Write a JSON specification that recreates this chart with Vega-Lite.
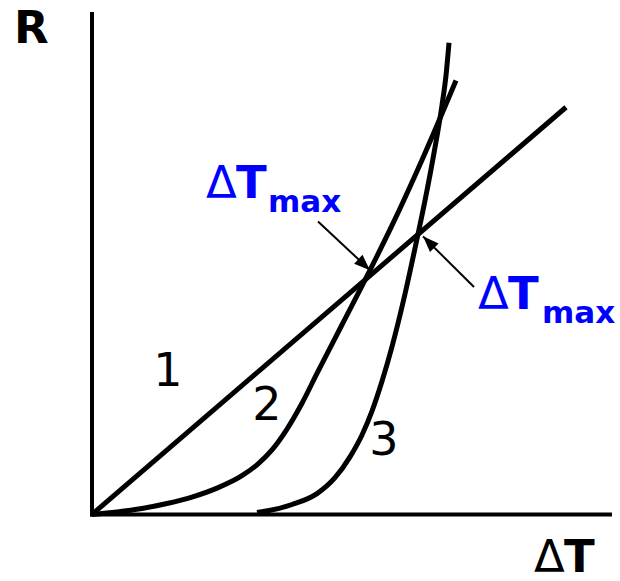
{
  "$schema": "https://vega.github.io/schema/vega-lite/v6.json",
  "autosize": {"type": "fit", "contains": "padding"},
  "width": 620,
  "height": 581,
  "padding": 0,
  "background": "white",
  "config": {"view": {"stroke": null}},
  "datasets": {
    "axes": [
      {"axis": "R", "x": 0, "y": 0, "x2": 0, "y2": 504},
      {"axis": "dT", "x": 0, "y": 0, "x2": 518, "y2": 0}
    ],
    "curves": [
      {"curve": "1", "i": 0, "dT": 0, "R": 0},
      {"curve": "1", "i": 1, "dT": 474, "R": 410},
      {"curve": "2", "i": 0, "dT": 0, "R": 0},
      {"curve": "2", "i": 1, "dT": 25, "R": 2.5},
      {"curve": "2", "i": 2, "dT": 50, "R": 6},
      {"curve": "2", "i": 3, "dT": 75, "R": 11},
      {"curve": "2", "i": 4, "dT": 100, "R": 17.5},
      {"curve": "2", "i": 5, "dT": 125, "R": 26.5},
      {"curve": "2", "i": 6, "dT": 150, "R": 39},
      {"curve": "2", "i": 7, "dT": 165, "R": 50},
      {"curve": "2", "i": 8, "dT": 180, "R": 65},
      {"curve": "2", "i": 9, "dT": 195, "R": 86},
      {"curve": "2", "i": 10, "dT": 210, "R": 112},
      {"curve": "2", "i": 11, "dT": 225, "R": 142},
      {"curve": "2", "i": 12, "dT": 250, "R": 191},
      {"curve": "2", "i": 13, "dT": 278, "R": 246},
      {"curve": "2", "i": 14, "dT": 300, "R": 291},
      {"curve": "2", "i": 15, "dT": 330, "R": 357},
      {"curve": "2", "i": 16, "dT": 364, "R": 437},
      {"curve": "3", "i": 0, "dT": 165, "R": 2},
      {"curve": "3", "i": 1, "dT": 176, "R": 3.7},
      {"curve": "3", "i": 2, "dT": 200, "R": 10},
      {"curve": "3", "i": 3, "dT": 225, "R": 21},
      {"curve": "3", "i": 4, "dT": 243, "R": 37},
      {"curve": "3", "i": 5, "dT": 258, "R": 58},
      {"curve": "3", "i": 6, "dT": 270, "R": 80},
      {"curve": "3", "i": 7, "dT": 280, "R": 104},
      {"curve": "3", "i": 8, "dT": 290, "R": 134},
      {"curve": "3", "i": 9, "dT": 300, "R": 169},
      {"curve": "3", "i": 10, "dT": 313, "R": 222},
      {"curve": "3", "i": 11, "dT": 323, "R": 268},
      {"curve": "3", "i": 12, "dT": 333, "R": 316},
      {"curve": "3", "i": 13, "dT": 342, "R": 364},
      {"curve": "3", "i": 14, "dT": 350, "R": 412},
      {"curve": "3", "i": 15, "dT": 354, "R": 442},
      {"curve": "3", "i": 16, "dT": 357, "R": 475}
    ],
    "arrows": [
      {"arrow": "left", "x": 226, "y": 295, "x2": 278, "y2": 246},
      {"arrow": "right", "x": 382, "y": 229, "x2": 331, "y2": 280}
    ],
    "plainText": [
      {"text": "1", "x": 76, "y": 129},
      {"text": "2", "x": 175, "y": 95},
      {"text": "3", "x": 292, "y": 60}
    ],
    "axisDelta": [{"text": "Δ", "x": 442, "y": -58}],
    "axisBold": [
      {"text": "R", "x": -78, "y": 475},
      {"text": "T", "x": 472, "y": -58}
    ],
    "maxDelta": [
      {"text": "Δ", "x": 114, "y": 319},
      {"text": "Δ", "x": 386, "y": 207}
    ],
    "maxT": [
      {"text": "T", "x": 144, "y": 319},
      {"text": "T", "x": 416, "y": 207}
    ],
    "maxSub": [
      {"text": "max", "x": 176, "y": 305},
      {"text": "max", "x": 450, "y": 193}
    ]
  },
  "layer": [
    {
      "data": {"name": "axes"},
      "mark": {"type": "rule", "color": "black", "strokeWidth": 4, "strokeCap": "square"},
      "encoding": {
        "x": {"field": "x", "type": "quantitative", "scale": {"domain": [-92, 528], "zero": false, "nice": false}, "axis": null},
        "y": {"field": "y", "type": "quantitative", "scale": {"domain": [-63, 518], "zero": false, "nice": false}, "axis": null},
        "x2": {"field": "x2"},
        "y2": {"field": "y2"}
      }
    },
    {
      "data": {"name": "curves"},
      "mark": {"type": "line", "color": "black", "strokeWidth": 5, "interpolate": "monotone"},
      "encoding": {
        "x": {"field": "dT", "type": "quantitative", "scale": {"domain": [-92, 528], "zero": false, "nice": false}, "axis": null},
        "y": {"field": "R", "type": "quantitative", "scale": {"domain": [-63, 518], "zero": false, "nice": false}, "axis": null},
        "detail": {"field": "curve", "type": "nominal"},
        "order": {"field": "i", "type": "quantitative"}
      }
    },
    {
      "data": {"name": "arrows"},
      "mark": {"type": "rule", "color": "black", "strokeWidth": 2},
      "encoding": {
        "x": {"field": "x", "type": "quantitative", "scale": {"domain": [-92, 528], "zero": false, "nice": false}, "axis": null},
        "y": {"field": "y", "type": "quantitative", "scale": {"domain": [-63, 518], "zero": false, "nice": false}, "axis": null},
        "x2": {"field": "x2"},
        "y2": {"field": "y2"}
      }
    },
    {
      "data": {"name": "arrows"},
      "transform": [{"filter": "datum.arrow === 'left'"}],
      "mark": {"type": "point", "shape": "M0,0L-1,-0.38L-1,0.38Z", "size": 1024, "filled": true, "color": "black", "opacity": 1, "angle": 43},
      "encoding": {
        "x": {"field": "x2", "type": "quantitative", "scale": {"domain": [-92, 528], "zero": false, "nice": false}, "axis": null},
        "y": {"field": "y2", "type": "quantitative", "scale": {"domain": [-63, 518], "zero": false, "nice": false}, "axis": null}
      }
    },
    {
      "data": {"name": "arrows"},
      "transform": [{"filter": "datum.arrow === 'right'"}],
      "mark": {"type": "point", "shape": "M0,0L-1,-0.38L-1,0.38Z", "size": 1024, "filled": true, "color": "black", "opacity": 1, "angle": 225},
      "encoding": {
        "x": {"field": "x2", "type": "quantitative", "scale": {"domain": [-92, 528], "zero": false, "nice": false}, "axis": null},
        "y": {"field": "y2", "type": "quantitative", "scale": {"domain": [-63, 518], "zero": false, "nice": false}, "axis": null}
      }
    },
    {
      "data": {"name": "plainText"},
      "mark": {"type": "text", "font": "DejaVu Sans", "fontSize": 46, "color": "black", "align": "center", "baseline": "alphabetic"},
      "encoding": {
        "x": {"field": "x", "type": "quantitative", "scale": {"domain": [-92, 528], "zero": false, "nice": false}, "axis": null},
        "y": {"field": "y", "type": "quantitative", "scale": {"domain": [-63, 518], "zero": false, "nice": false}, "axis": null},
        "text": {"field": "text"}
      }
    },
    {
      "data": {"name": "axisDelta"},
      "mark": {"type": "text", "font": "DejaVu Sans", "fontSize": 45, "color": "black", "align": "left", "baseline": "alphabetic"},
      "encoding": {
        "x": {"field": "x", "type": "quantitative", "scale": {"domain": [-92, 528], "zero": false, "nice": false}, "axis": null},
        "y": {"field": "y", "type": "quantitative", "scale": {"domain": [-63, 518], "zero": false, "nice": false}, "axis": null},
        "text": {"field": "text"}
      }
    },
    {
      "data": {"name": "axisBold"},
      "mark": {"type": "text", "font": "DejaVu Sans", "fontWeight": "bold", "fontSize": 45, "color": "black", "align": "left", "baseline": "alphabetic"},
      "encoding": {
        "x": {"field": "x", "type": "quantitative", "scale": {"domain": [-92, 528], "zero": false, "nice": false}, "axis": null},
        "y": {"field": "y", "type": "quantitative", "scale": {"domain": [-63, 518], "zero": false, "nice": false}, "axis": null},
        "text": {"field": "text"}
      }
    },
    {
      "data": {"name": "maxDelta"},
      "mark": {"type": "text", "font": "DejaVu Sans", "fontSize": 45, "color": "#0000ff", "align": "left", "baseline": "alphabetic"},
      "encoding": {
        "x": {"field": "x", "type": "quantitative", "scale": {"domain": [-92, 528], "zero": false, "nice": false}, "axis": null},
        "y": {"field": "y", "type": "quantitative", "scale": {"domain": [-63, 518], "zero": false, "nice": false}, "axis": null},
        "text": {"field": "text"}
      }
    },
    {
      "data": {"name": "maxT"},
      "mark": {"type": "text", "font": "DejaVu Sans", "fontWeight": "bold", "fontSize": 45, "color": "#0000ff", "align": "left", "baseline": "alphabetic"},
      "encoding": {
        "x": {"field": "x", "type": "quantitative", "scale": {"domain": [-92, 528], "zero": false, "nice": false}, "axis": null},
        "y": {"field": "y", "type": "quantitative", "scale": {"domain": [-63, 518], "zero": false, "nice": false}, "axis": null},
        "text": {"field": "text"}
      }
    },
    {
      "data": {"name": "maxSub"},
      "mark": {"type": "text", "font": "DejaVu Sans", "fontWeight": "bold", "fontSize": 31, "color": "#0000ff", "align": "left", "baseline": "alphabetic"},
      "encoding": {
        "x": {"field": "x", "type": "quantitative", "scale": {"domain": [-92, 528], "zero": false, "nice": false}, "axis": null},
        "y": {"field": "y", "type": "quantitative", "scale": {"domain": [-63, 518], "zero": false, "nice": false}, "axis": null},
        "text": {"field": "text"}
      }
    }
  ]
}
